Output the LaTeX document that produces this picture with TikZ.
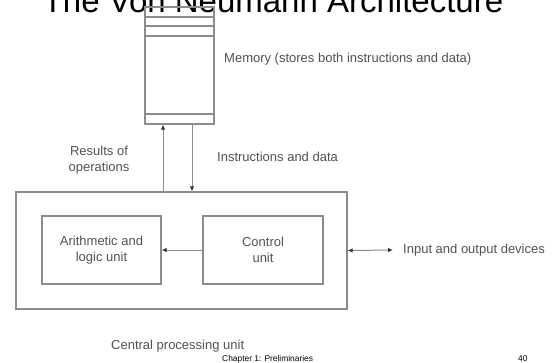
\documentclass[tikz,border=0pt]{standalone}
\usepackage{fontspec}
\setmainfont{Liberation Sans}
\usetikzlibrary{arrows.meta}
\definecolor{boxgray}{gray}{0.55}
\definecolor{lblgray}{gray}{0.32}
\begin{document}
\begin{tikzpicture}[x=1pt,y=-1pt,
  box/.style={draw=boxgray, line width=1.2pt, inner sep=0pt, text=lblgray,
    font=\fontsize{13}{15.5}\selectfont, align=center},
  lbl/.style={text=lblgray, font=\fontsize{13}{15.5}\selectfont, inner sep=0pt},
  conn/.style={draw=boxgray, line width=1pt, -{Latex[length=5pt,width=4.5pt,color=black!80]}},
  conn2/.style={draw=boxgray, line width=1pt, {Latex[length=5pt,width=4.5pt,color=black!80]}-{Latex[length=5pt,width=4.5pt,color=black!80]}},
]
\useasboundingbox[fill=white] (0,0) rectangle (553,362);

% title (cut off at top, as in the reference)
\node[anchor=base, inner sep=0pt, font=\fontsize{33}{38}\selectfont] (title) at (273,12) {The Von Neumann Architecture};

% memory
\node[box, minimum width=69pt, minimum height=117pt] (mem) at (179.5,65.5) {};
\coordinate (m1) at (0,17);
\coordinate (m2) at (0,26);
\coordinate (m3) at (0,36);
\coordinate (m4) at (0,114);
\draw[boxgray, line width=1.2pt] (mem.west |- m1) -- (mem.east |- m1);
\draw[boxgray, line width=1.2pt] (mem.west |- m2) -- (mem.east |- m2);
\draw[boxgray, line width=1.2pt] (mem.west |- m3) -- (mem.east |- m3);
\draw[boxgray, line width=1.2pt] (mem.west |- m4) -- (mem.east |- m4);
\node[lbl, anchor=west] (memlbl) at (224,59) {Memory (stores both instructions and data)};

% CPU
\node[box, minimum width=331pt, minimum height=117pt] (cpu) at (181.5,250.5) {};
\node[box, minimum width=119pt, minimum height=68pt] (alu) at (101.5,250) {Arithmetic and\\logic unit};
\node[box, minimum width=120pt, minimum height=68pt] (ctl) at (263,250) {Control\\unit};
\node[lbl, anchor=base west] (cpulbl) at (111,349) {Central processing unit};

% memory <-> cpu
\coordinate (upx) at (163,0);
\coordinate (dnx) at (192,0);
\draw[conn] (cpu.north -| upx) -- (mem.south -| upx);
\draw[conn] (mem.south -| dnx) -- (cpu.north -| dnx);
\node[lbl, align=center] (reslbl) at (99,160) {Results of\\operations};
\node[lbl, anchor=west] (inslbl) at (217,157) {Instructions and data};

% control -> alu
\draw[conn] (ctl.west) -- (alu.east);

% i/o
\coordinate (ioend) at (393,250);
\draw[conn2] (cpu.east) -- (ioend);
\node[lbl, anchor=west] (iolbl) at (403,250) {Input and output devices};

% footer
\node[anchor=base west, inner sep=0pt, font=\fontsize{8.4}{10}\selectfont] (chap) at (222,361) {Chapter 1: Preliminaries};
\node[anchor=base west, inner sep=0pt, font=\fontsize{8.4}{10}\selectfont] (pnum) at (518,361) {40};
\end{tikzpicture}
\end{document}
